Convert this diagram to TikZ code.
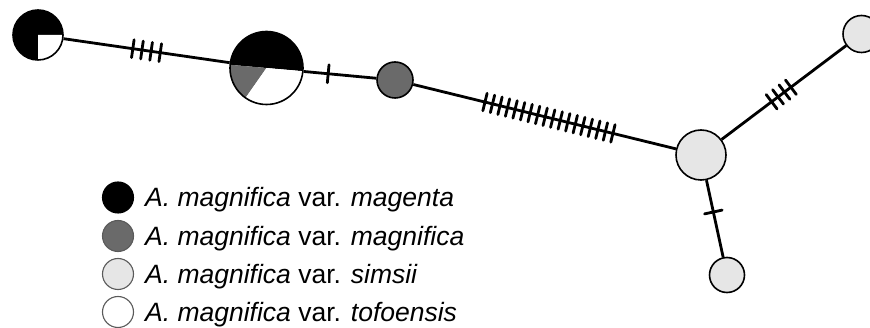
\documentclass[tikz,border=0pt]{standalone}
\usepackage{fontspec}
\setmainfont{Liberation Sans}
\usetikzlibrary{calc}
\definecolor{midgray}{HTML}{6A6A6A}
\definecolor{pale}{HTML}{E6E6E6}
\definecolor{rimgray}{HTML}{5A5A5A}
\begin{document}
\begin{tikzpicture}[x=1pt,y=-1pt,
  hap/.style={circle, draw=black, line width=1.6pt, inner sep=0pt},
  edge/.style={line width=2.8pt},
  mut/.style={line width=2.8pt, line cap=round},
  leg/.style={circle, draw=rimgray, line width=1.1pt, minimum size=31pt, inner sep=0pt},
  lab/.style={anchor=base west, font=\fontsize{26.5}{30}\selectfont, inner sep=0pt}]
\useasboundingbox (0,0) rectangle (870,328);
\clip (0,0) rectangle (870,328);
% pie slices (angles in screen orientation)
\fill[black] (38,35) circle[radius=25pt];
\fill[white] (38,35) -- ++(0:25pt) arc[start angle=0, end angle=-90, radius=25pt] -- cycle;
\fill[black] (266.5,68) -- ++(-5:36.5pt) arc[start angle=-5, end angle=175, radius=36.5pt] -- cycle;
\fill[midgray] (266.5,68) -- ++(175:36.5pt) arc[start angle=175, end angle=235, radius=36.5pt] -- cycle;
\fill[white] (266.5,68) -- ++(235:36.5pt) arc[start angle=235, end angle=355, radius=36.5pt] -- cycle;
% haplotype nodes
\node[hap, minimum size=50pt] (A) at (38,35) {};
\node[hap, minimum size=73pt] (B) at (266.5,68) {};
\node[hap, fill=midgray, minimum size=36pt] (C) at (395,80) {};
\node[hap, fill=pale, minimum size=50pt] (D) at (701,155) {};
\node[hap, fill=pale, minimum size=37pt] (E) at (861.5,34) {};
\node[hap, fill=pale, minimum size=35pt] (F) at (727,275) {};
% connectors
\draw[edge] (A) -- (B);
\draw[edge] (B) -- (C);
\draw[edge] (C) -- (D);
\draw[edge] (D) -- (E);
\draw[edge] (D) -- (F);
% mutation ticks
\foreach \f in {0.415,0.455,0.495,0.535}
  \draw[mut] ($(A.center)!\f!(B.center)!9pt!90:(B.center)$) -- ($(A.center)!\f!(B.center)!9pt!-90:(B.center)$);
\foreach \f in {0.48}
  \draw[mut] ($(B.center)!\f!(C.center)!9pt!90:(C.center)$) -- ($(B.center)!\f!(C.center)!9pt!-90:(C.center)$);
\foreach \i in {0,...,17}{
  \pgfmathsetmacro{\f}{0.294+\i*0.0246}
  \draw[mut] ($(C.center)!\f!(D.center)!9pt!90:(D.center)$) -- ($(C.center)!\f!(D.center)!9pt!-90:(D.center)$);
}
\foreach \f in {0.44,0.48,0.52,0.56}
  \draw[mut] ($(D.center)!\f!(E.center)!9pt!90:(E.center)$) -- ($(D.center)!\f!(E.center)!9pt!-90:(E.center)$);
\foreach \f in {0.475}
  \draw[mut] ($(D.center)!\f!(F.center)!9pt!90:(F.center)$) -- ($(D.center)!\f!(F.center)!9pt!-90:(F.center)$);
% legend
\node[leg, draw=black, fill=black] (l1) at (118,197.5) {};
\node[leg, fill=midgray] (l2) at (118,236) {};
\node[leg, fill=pale] (l3) at (118,274) {};
\node[leg, fill=white] (l4) at (118,312) {};
\node[lab] (t1) at (145,207) {\textit{A. magnifica} var. \textit{magenta}};
\node[lab] (t2) at (145,245.5) {\textit{A. magnifica} var. \textit{magnifica}};
\node[lab] (t3) at (145,283.5) {\textit{A. magnifica} var. \textit{simsii}};
\node[lab] (t4) at (145,321.5) {\textit{A. magnifica} var. \textit{tofoensis}};
\end{tikzpicture}
\end{document}
